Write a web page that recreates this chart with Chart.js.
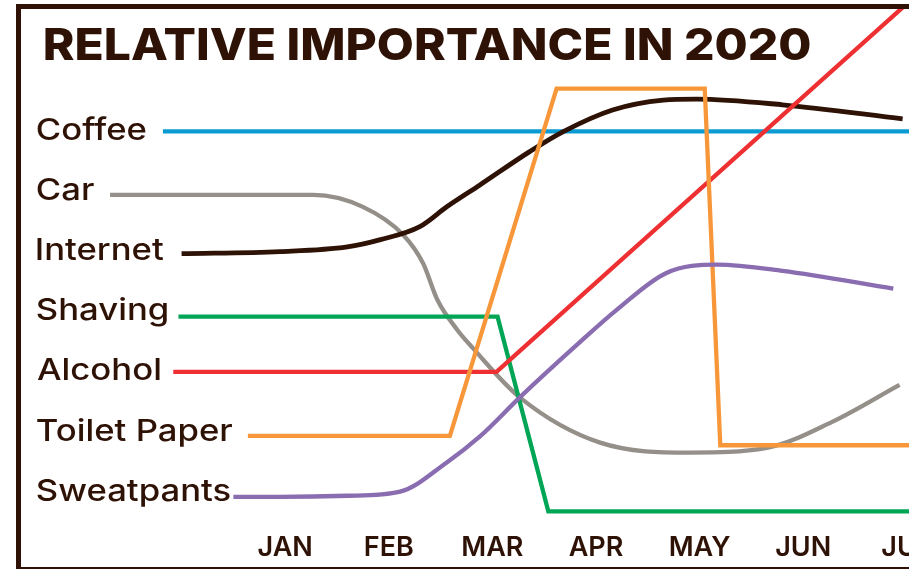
<!DOCTYPE html>
<html lang="en">
<head>
    <meta charset="UTF-8">
    <title>Relative Importance in 2020</title>
    <script src="https://cdn.jsdelivr.net/npm/chart.js@4.4.1/dist/chart.umd.min.js"></script>
    <style>
        html, body { margin: 0; padding: 0; background: #fff; }
        #wrap { position: relative; width: 909px; height: 569px; overflow: hidden; }
        #chart { position: absolute; left: 0; top: 0; }
        #frame {
            position: absolute; left: 16px; top: 4px; width: 1000px; height: 565px;
            box-sizing: border-box; pointer-events: none;
            border-left: 5px solid #2f1206; border-top: 5px solid #2f1206; border-bottom: 2px solid #2f1206;
        }
    </style>
</head>
<body>
<div id="wrap">
    <canvas id="chart" width="1000" height="569"></canvas>
    <div id="frame"></div>
</div>
<script>
    const TITLE = 'RELATIVE IMPORTANCE IN 2020';
    const MONTHS = ['JAN', 'FEB', 'MAR', 'APR', 'MAY', 'JUN', 'JUL'];
    const NAMES = ['Coffee', 'Car', 'Internet', 'Shaving', 'Alcohol', 'Toilet Paper', 'Sweatpants'];

    // x = month (1 = Jan), y = relative importance (0-100)
    const coffeeX = [-0.18, 7.9];
    const coffeeY = [76.5, 76.5];
    const carX = [-0.69, 1.27, 1.75, 2.14, 2.33, 2.47, 2.66, 2.81, 3.27, 4.04, 4.91, 5.65, 6.28, 6.93];
    const carY = [64.3, 64.3, 62.0, 56.6, 51.2, 44.1, 38.4, 34.9, 25.3, 16.7, 14.8, 15.7, 20.7, 27.8];
    const internetX = [0, 0.95, 1.6, 1.92, 2.3, 2.56, 2.88, 3.36, 3.68, 4.16, 4.65, 4.97, 5.8, 6.96];
    const internetY = [53.0, 53.4, 54.3, 55.7, 58.2, 62.0, 66.2, 72.6, 76.4, 80.6, 82.5, 82.7, 81.6, 78.9];
    const shavingX = [-0.03, 3.05, 3.54, 7.9];
    const shavingY = [40.9, 40.9, 3.5, 3.5];
    const alcoholX = [-0.08, 3.04, 7.0];
    const alcoholY = [30.3, 30.3, 101.0];
    const toiletX = [0.64, 2.59, 3.62, 5.05, 5.2, 7.9];
    const toiletY = [18.0, 18.0, 84.7, 84.7, 16.2, 16.2];
    const sweatX = [0.5, 0.95, 1.6, 2.11, 2.56, 2.88, 3.27, 3.85, 4.2, 4.68, 5.17, 5.8, 6.87];
    const sweatY = [6.3, 6.3, 6.5, 7.3, 12.9, 17.9, 25.5, 36.1, 42.2, 49.3, 50.9, 49.7, 46.3];

    const INK = '#2f1206';
    const COLORS = ['#0b9bd3', '#958f8a', '#2f1206', '#00a655', '#ee3032', '#f8973a', '#8a6cb1'];

    const pts = (xs, ys) => xs.map((x, i) => ({ x: x, y: ys[i] }));
    const seriesData = [
        pts(coffeeX, coffeeY), pts(carX, carY), pts(internetX, internetY), pts(shavingX, shavingY),
        pts(alcoholX, alcoholY), pts(toiletX, toiletY), pts(sweatX, sweatY)
    ];
    const curved = [false, true, true, false, false, false, true];

    // first dataset is drawn on top, so put Coffee last
    const datasets = NAMES.map((name, i) => ({
        label: name,
        data: seriesData[i],
        borderColor: COLORS[i],
        borderWidth: i === 2 ? 4.8 : 4.3,
        pointRadius: 0,
        tension: 0,
        cubicInterpolationMode: curved[i] ? 'monotone' : 'default'
    })).reverse();

    // title + series names on the left
    const textPlugin = {
        id: 'sideText',
        afterDraw(chart) {
            const ctx = chart.ctx;
            ctx.save();
            ctx.fillStyle = INK;
            ctx.textAlign = 'left';
            ctx.textBaseline = 'alphabetic';

            ctx.font = '800 44px Inter';
            let m = ctx.measureText(TITLE);
            let s = 765 / (m.actualBoundingBoxRight + m.actualBoundingBoxLeft);
            ctx.save();
            ctx.translate(45 + m.actualBoundingBoxLeft * s, 60);
            ctx.scale(s, 1);
            ctx.fillText(TITLE, 0, 0);
            ctx.restore();

            ctx.font = '500 30px Inter';
            m = ctx.measureText('Toilet Paper');
            s = 195 / (m.actualBoundingBoxRight + m.actualBoundingBoxLeft);
            NAMES.forEach((name, i) => {
                const mm = ctx.measureText(name);
                ctx.save();
                ctx.translate(37 + mm.actualBoundingBoxLeft * s, 140 + i * 60.1);
                ctx.scale(s, 1);
                ctx.fillText(name, 0, 0);
                ctx.restore();
            });
            ctx.restore();
        }
    };

    new Chart(document.getElementById('chart'), {
        type: 'line',
        data: { datasets: datasets },
        options: {
            responsive: false,
            animation: false,
            layout: { padding: { left: 21, top: 9, right: 0, bottom: 3 } },
            plugins: { legend: { display: false }, tooltip: { enabled: false } },
            scales: {
                x: {
                    type: 'linear',
                    min: -1.55,
                    max: 7.9,
                    grid: { display: false, drawTicks: false },
                    border: { display: false },
                    afterBuildTicks: axis => { axis.ticks = MONTHS.map((m, i) => ({ value: i + 1 })); },
                    ticks: {
                        padding: 2,
                        maxRotation: 0,
                        autoSkip: false,
                        color: INK,
                        font: { family: 'Inter', size: 27, weight: '600' },
                        callback: value => MONTHS[value - 1]
                    }
                },
                y: { type: 'linear', display: false, min: 0, max: 100 }
            }
        },
        plugins: [textPlugin]
    });
</script>
</body>
</html>
